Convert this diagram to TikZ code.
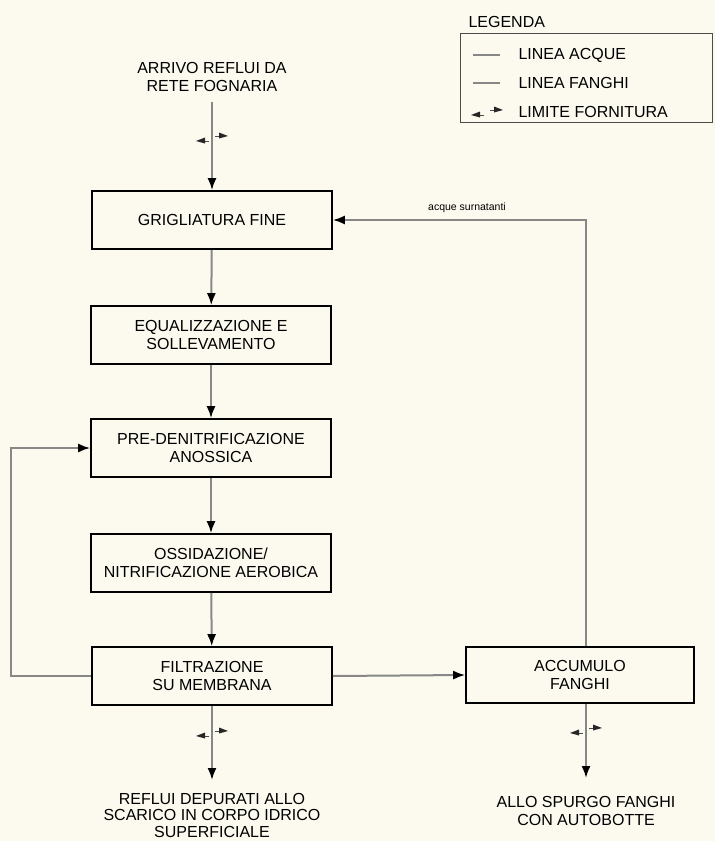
\documentclass[tikz,border=0pt]{standalone}
\usepackage{fontspec}
\setmainfont{Liberation Sans}
\usepackage{xcolor}
\usetikzlibrary{arrows.meta, positioning, calc}

\definecolor{paper}{RGB}{252,250,239}
\definecolor{flowgray}{RGB}{135,135,135}

% limite fornitura: two small flags across a line
\newcommand{\limitemark}[1]{%
  \draw[black!70, line width=1pt] ($(#1)+(-13,3)$) -- ($(#1)+(-3,3)$);
  \fill[black!85] ($(#1)+(-16,3)$) -- ($(#1)+(-7,-0.5)$) -- ($(#1)+(-7,5.5)$) -- cycle;
  \draw[black!70, line width=1pt] ($(#1)+(3,-2)$) -- ($(#1)+(13,-2)$);
  \fill[black!85] ($(#1)+(16,-2)$) -- ($(#1)+(7,-5.5)$) -- ($(#1)+(7,0.5)$) -- cycle;
}

\begin{document}
\begin{tikzpicture}[
    x=1pt, y=-1pt,
    every node/.style={font=\fontsize{16}{18}\selectfont},
    box/.style={draw, line width=1.6pt, rectangle, minimum width=240pt, minimum height=58pt, align=center, inner sep=0pt},
    flow/.style={draw=flowgray, line width=2pt, -{Latex[length=12pt, width=9pt, color=black]}},
    legline/.style={draw=flowgray}
]
    \fill[paper] (0,0) rectangle (715,841);
    \useasboundingbox (0,0) rectangle (715,841);

    % Legenda
    \node[anchor=west] (legenda) at (465,22) {LEGENDA};
    \node[draw=black!70, line width=0.9pt, anchor=north west, minimum width=252pt, minimum height=89pt, inner sep=0pt] (legbox) at (460,33) {};
    \node[anchor=west] (acque) at (515,55) {LINEA ACQUE};
    \node[anchor=west] (fanghi) at (515,83) {LINEA FANGHI};
    \node[anchor=west] (limite) at (515,112) {LIMITE FORNITURA};
    \draw[legline, line width=1.4pt] (473,55) -- (500,55);
    \draw[legline, line width=2.4pt] (473,83) -- (500,83);
    \limitemark{487,112}

    % Process line
    \node[align=center] (arrivo) at (212,77) {ARRIVO REFLUI DA\\RETE FOGNARIA};
    \coordinate (inlet) at (212,102);
    \node[box] (grig) at (212,220) {GRIGLIATURA FINE};
    \node[box] (equal) at (211,335) {EQUALIZZAZIONE E\\SOLLEVAMENTO};
    \node[box] (preden) at (211,448) {PRE-DENITRIFICAZIONE\\ANOSSICA};
    \node[box] (ossid) at (211,563) {OSSIDAZIONE/\\NITRIFICAZIONE AEROBICA};
    \node[box] (filtr) at (212,676) {FILTRAZIONE\\SU MEMBRANA};
    \node[box, minimum width=228pt, minimum height=56pt] (accum) at (580,675) {ACCUMULO\\FANGHI};

    \coordinate (scarico) at (212,780);
    \node[align=center, font=\fontsize{16}{16.5}\selectfont] (reflui) at (212,815) {REFLUI DEPURATI ALLO\\SCARICO IN CORPO IDRICO\\SUPERFICIALE};
    \coordinate (autobotte) at (586,778);
    \node[align=center] (spurgo) at (586,811) {ALLO SPURGO FANGHI\\CON AUTOBOTTE};

    % Connections
    \draw[flow] (inlet) -- (grig.north);
    \draw[flow] (grig) -- (equal);
    \draw[flow] (equal) -- (preden);
    \draw[flow] (preden) -- (ossid);
    \draw[flow] (ossid) -- (filtr);
    \draw[flow] (filtr.east) -- (accum.west);
    \draw[flow] (filtr.west) -- ++(-80,0) |- (preden.west);
    \draw[flow] ([xshift=6pt]accum.north) |- (grig.east)
        node[pos=0.735, above=3pt, font=\fontsize{10.5}{12}\selectfont] (surn) {acque surnatanti};
    \draw[flow] (filtr.south) -- (scarico);
    \draw[flow] ([xshift=6pt]accum.south) -- (autobotte);

    % Limiti fornitura
    \limitemark{212,138}
    \limitemark{212,733}
    \limitemark{586,730}
\end{tikzpicture}
\end{document}
